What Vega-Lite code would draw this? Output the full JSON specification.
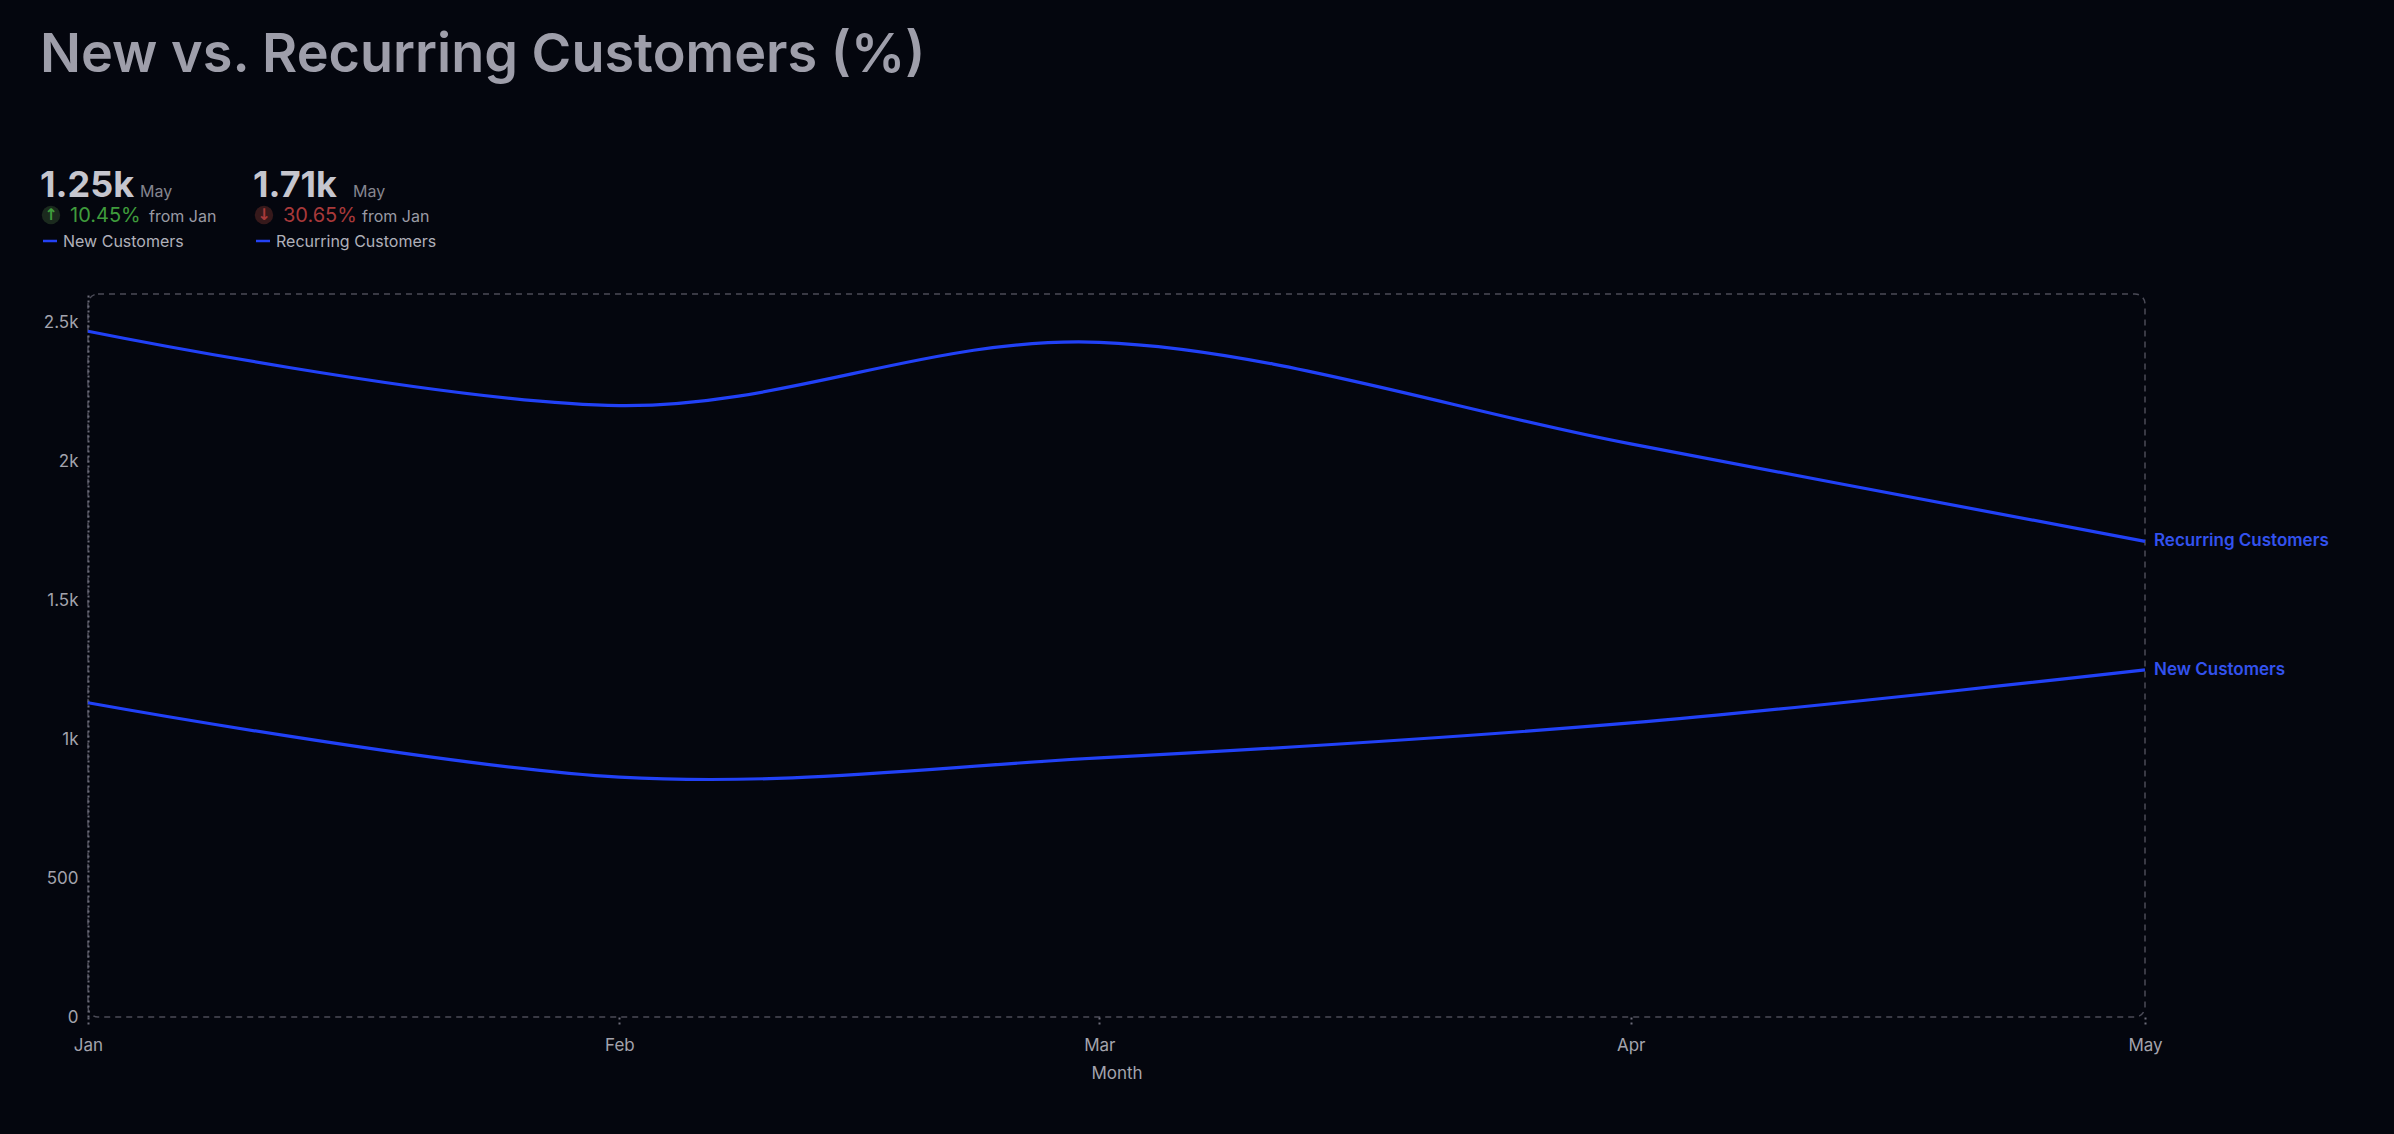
{
  "$schema": "https://vega.github.io/schema/vega-lite/v6.json",
  "background": "#04060e",
  "padding": {"left": 38, "top": 29, "right": 66, "bottom": 52},
  "title": {
    "text": "New vs. Recurring Customers (%)",
    "anchor": "start",
    "fontSize": 54,
    "fontWeight": 600,
    "font": "Inter",
    "color": "#9e9eaa",
    "offset": 70,
    "dx": 2
  },
  "datasets": {
    "kpi": [
      {"series": "New Customers", "latest": "1.25k", "period": "May", "change": "10.45%", "direction": "up", "arrow": "↑", "base": "from Jan"},
      {"series": "Recurring Customers", "latest": "1.71k", "period": "May", "change": "30.65%", "direction": "down", "arrow": "↓", "base": "from Jan"}
    ],
    "monthly": [
      {"month": "2023-01-01", "series": "New Customers", "customers": 1132},
      {"month": "2023-02-01", "series": "New Customers", "customers": 864},
      {"month": "2023-03-01", "series": "New Customers", "customers": 933},
      {"month": "2023-04-01", "series": "New Customers", "customers": 1059},
      {"month": "2023-05-01", "series": "New Customers", "customers": 1250},
      {"month": "2023-01-01", "series": "Recurring Customers", "customers": 2470},
      {"month": "2023-02-01", "series": "Recurring Customers", "customers": 2202},
      {"month": "2023-03-01", "series": "Recurring Customers", "customers": 2430},
      {"month": "2023-04-01", "series": "Recurring Customers", "customers": 2064},
      {"month": "2023-05-01", "series": "Recurring Customers", "customers": 1713}
    ]
  },
  "spacing": 30,
  "vconcat": [
    {
      "width": 300,
      "height": 110,
      "view": {"stroke": null},
      "data": {"name": "kpi"},
      "encoding": {
        "x": {"field": "series", "type": "nominal", "axis": null,
              "scale": {"type": "point", "domain": ["New Customers", "Recurring Customers"], "range": [-48, 165], "padding": 0}}
      },
      "layer": [
        {
          "mark": {"type": "text", "align": "left", "baseline": "alphabetic", "fontSize": 36, "fontWeight": 700, "color": "#c6c6ce"},
          "encoding": {
            "y": {"datum": "headline", "type": "nominal", "axis": null,
                  "scale": {"type": "point", "domain": ["headline", "change", "legend"], "range": [44, 94], "padding": 0}},
            "text": {"field": "latest"}
          }
        },
        {
          "mark": {"type": "text", "align": "left", "baseline": "alphabetic", "fontSize": 16, "dx": 100, "color": "#85858f"},
          "encoding": {"y": {"datum": "headline", "type": "nominal"}, "text": {"field": "period"}}
        },
        {
          "mark": {"type": "point", "shape": "circle", "filled": true, "size": 340, "xOffset": 11, "yOffset": -7, "opacity": 1},
          "encoding": {
            "y": {"datum": "change", "type": "nominal"},
            "fill": {"field": "direction", "type": "nominal", "legend": null,
                     "scale": {"domain": ["up", "down"], "range": ["#1b2a1e", "#36191b"]}}
          }
        },
        {
          "mark": {"type": "text", "align": "center", "baseline": "middle", "fontSize": 16, "fontWeight": 700, "dx": 11, "dy": -7, "font": "DejaVu Sans"},
          "encoding": {
            "y": {"datum": "change", "type": "nominal"},
            "text": {"field": "arrow"},
            "color": {"field": "direction", "type": "nominal", "legend": null,
                      "scale": {"domain": ["up", "down"], "range": ["#3f9c3c", "#a8393a"]}}
          }
        },
        {
          "mark": {"type": "text", "align": "left", "baseline": "alphabetic", "fontSize": 20, "dx": 30},
          "encoding": {
            "y": {"datum": "change", "type": "nominal"},
            "text": {"field": "change"},
            "color": {"field": "direction", "type": "nominal", "legend": null}
          }
        },
        {
          "mark": {"type": "text", "align": "left", "baseline": "alphabetic", "fontSize": 16, "dx": 109, "color": "#9a9aa4"},
          "encoding": {"y": {"datum": "change", "type": "nominal"}, "text": {"field": "base"}}
        },
        {
          "mark": {"type": "point", "shape": "stroke", "size": 196, "xOffset": 10, "yOffset": -6, "strokeWidth": 2.5, "color": "#2442f5", "opacity": 1},
          "encoding": {"y": {"datum": "legend", "type": "nominal"}}
        },
        {
          "mark": {"type": "text", "align": "left", "baseline": "alphabetic", "fontSize": 16, "dx": 23, "color": "#b0b0ba"},
          "encoding": {"y": {"datum": "legend", "type": "nominal"}, "text": {"field": "series"}}
        }
      ]
    },
    {
      "width": 2057,
      "height": 723,
      "view": {"stroke": "#4b4b57", "strokeDash": [6, 5], "strokeWidth": 1.5, "cornerRadius": 10},
      "data": {"name": "monthly"},
      "encoding": {
        "x": {
          "field": "month", "type": "temporal",
          "scale": {"type": "utc"},
          "axis": {
            "labelExpr": "utcFormat(datum.value, '%b')",
            "tickCount": {"interval": "month", "step": 1},
            "domain": false, "grid": false,
            "ticks": true, "tickColor": "#6b6b78", "tickDash": [2, 3], "tickWidth": 2, "tickSize": 10,
            "labelColor": "#a3a3ad", "labelFontSize": 17, "labelPadding": 10, "labelFlush": false,
            "title": "Month", "titleColor": "#a3a3ad", "titleFontSize": 17, "titleFontWeight": "normal", "titlePadding": 12
          }
        },
        "y": {
          "field": "customers", "type": "quantitative",
          "scale": {"domain": [0, 2604], "nice": false},
          "axis": {
            "values": [0, 500, 1000, 1500, 2000, 2500],
            "labelExpr": "datum.value >= 1000 ? format(datum.value / 1000, '~g') + 'k' : format(datum.value, 'd')",
            "title": null, "grid": false, "ticks": false,
            "domainColor": "#6b6b78", "domainDash": [2, 3], "domainWidth": 2,
            "labelColor": "#a3a3ad", "labelFontSize": 17, "labelPadding": 10
          }
        }
      },
      "layer": [
        {
          "mark": {"type": "line", "interpolate": "cardinal", "strokeWidth": 3.2, "color": "#2141f7"},
          "encoding": {"detail": {"field": "series", "type": "nominal"}}
        },
        {
          "transform": [{"filter": "utcmonth(datum.month) == 4"}],
          "mark": {"type": "text", "align": "left", "baseline": "middle", "dx": 9, "fontSize": 17, "fontWeight": 600, "color": "#3352ee"},
          "encoding": {"text": {"field": "series"}}
        }
      ]
    }
  ],
  "resolve": {"scale": {"color": "independent"}},
  "config": {
    "font": "Inter",
    "text": {"font": "Inter"}
  }
}
